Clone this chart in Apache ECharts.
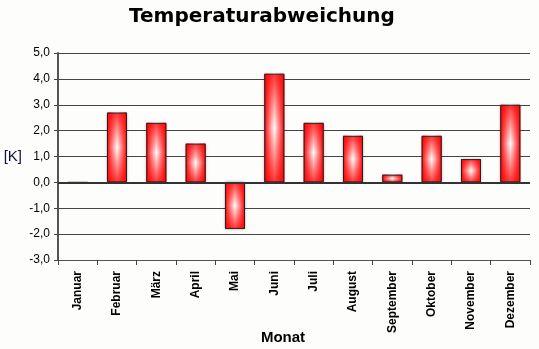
<!DOCTYPE html>
<html>
<head>
<meta charset="utf-8">
<script src="https://cdn.jsdelivr.net/npm/echarts@6/dist/echarts.min.js"></script>
<style>
  html, body { margin: 0; padding: 0; background: #fdfdfb; }
  #chart { width: 539px; height: 349px; }
</style>
</head>
<body>
<div id="chart"></div>
<script>
// Monthly temperature deviation in Kelvin
const months = ['Januar', 'Februar', 'März', 'April', 'Mai', 'Juni', 'Juli',
                'August', 'September', 'Oktober', 'November', 'Dezember'];
const deviation = [0, 2.7, 2.3, 1.5, -1.8, 4.2, 2.3, 1.8, 0.3, 1.8, 0.9, 3.0];
const yTicks = { min: -3, max: 5, step: 1 };

const chart = echarts.init(document.getElementById('chart'));

// Horizontal red-white-red fill for the bar body
const bodyFill = {
  type: 'linear', x: 0, y: 0, x2: 1, y2: 0,
  colorStops: [
    { offset: 0, color: '#ff0000' },
    { offset: 0.5, color: '#ffffff' },
    { offset: 1, color: '#ff0000' }
  ]
};
// Vertical red overlay fading out toward the middle
const capFill = {
  type: 'linear', x: 0, y: 0, x2: 0, y2: 1,
  colorStops: [
    { offset: 0, color: 'rgba(255,0,0,0.8)' },
    { offset: 0.5, color: 'rgba(255,0,0,0)' },
    { offset: 1, color: 'rgba(255,0,0,0.8)' }
  ]
};

chart.setOption({
  backgroundColor: '#fdfdfb',
  animation: false,
  title: {
    text: 'Temperaturabweichung',
    left: 124, top: 2,
    textStyle: { fontFamily: 'DejaVu Sans', fontWeight: 'bold', fontSize: 20, color: '#000' }
  },
  grid: { left: 58, right: 9, top: 53, bottom: 89, containLabel: false, outerBoundsMode: 'none' },
  xAxis: {
    type: 'category',
    data: months,
    name: 'Monat',
    nameLocation: 'middle',
    nameGap: 70,
    nameMoveOverlap: false,
    nameTextStyle: { fontFamily: 'Liberation Sans', fontWeight: 'bold', fontSize: 15, color: '#000', padding: [0, 22, 0, 0] },
    axisLine: { onZero: false, lineStyle: { color: '#555', width: 1 } },
    axisTick: { show: true, length: 5, lineStyle: { color: '#444' } },
    axisLabel: {
      rotate: 90, margin: 11, interval: 0,
      fontFamily: 'Liberation Sans', fontWeight: 'bold', fontSize: 12, color: '#000'
    }
  },
  yAxis: {
    type: 'value',
    min: yTicks.min, max: yTicks.max, interval: yTicks.step,
    name: '[K]',
    nameLocation: 'middle',
    nameRotate: 0,
    nameGap: 36,
    nameMoveOverlap: false,
    nameTextStyle: { fontFamily: 'Liberation Sans', fontSize: 15, color: '#101040', padding: [0, 0, 16, 0] },
    axisLine: { show: true, lineStyle: { color: '#555', width: 2 } },
    axisTick: { show: true, length: 4, lineStyle: { color: '#444' } },
    axisLabel: {
      margin: 8,
      fontFamily: 'Liberation Sans', fontSize: 12, color: '#000',
      formatter: v => v.toFixed(1).replace('.', ',')
    },
    splitLine: { lineStyle: { color: '#444', width: 1 } }
  },
  series: [
    {
      type: 'bar',
      data: deviation,
      barWidth: '51%',
      itemStyle: {
        color: bodyFill,
        shadowBlur: 3, shadowColor: 'rgba(0,0,0,0.4)'
      },
      markLine: {
        silent: true, symbol: 'none', label: { show: false },
        lineStyle: { color: '#333', width: 2, type: 'solid' },
        data: [{ yAxis: 0 }]
      }
    },
    {
      type: 'bar',
      data: deviation,
      barWidth: '51%',
      barGap: '-100%',
      itemStyle: { color: capFill, borderColor: '#222', borderWidth: 1 }
    }
  ]
});
</script>
</body>
</html>
